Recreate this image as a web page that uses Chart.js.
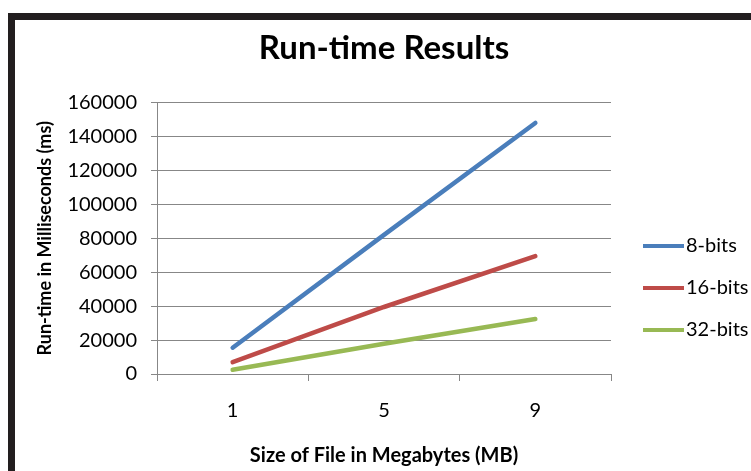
<!DOCTYPE html>
<html>
<head>
<meta charset="utf-8">
<script src="https://cdn.jsdelivr.net/npm/chart.js@4"></script>
<style>
    html, body { margin: 0; padding: 0; background: #fff; }
    #frame {
        position: absolute; left: 8px; top: 13px; width: 760px; height: 470px;
        border-top: 7px solid #221e1f; border-left: 7px solid #221e1f;
    }
    #chart { position: absolute; left: 0; top: 0; }
</style>
</head>
<body>
<div id="frame"></div>
<canvas id="chart" width="751" height="471"></canvas>
<script>
var sizes   = ['1', '5', '9'];
var bits8   = [15500, 82000, 148000];
var bits16  = [7000, 39500, 69500];
var bits32  = [2500, 17800, 32400];
var names   = ['8-bits', '16-bits', '32-bits'];
var colors  = ['#4a7ebb', '#be4b48', '#98b954'];
var yTicks  = [0, 20000, 40000, 60000, 80000, 100000, 120000, 140000, 160000];

var FONT = 'Lato, "Open Sans", sans-serif';
var GRID = '#878787';

// legend on the right, drawn by hand to sit where Excel puts it
var sideLegend = {
    id: 'sideLegend',
    afterDraw: function(chart) {
        var ctx = chart.ctx;
        ctx.save();
        ctx.font = '20px ' + FONT;
        ctx.textBaseline = 'middle';
        ctx.textAlign = 'left';
        chart.data.datasets.forEach(function(ds, i) {
            var y = 246 + i * 42;
            ctx.strokeStyle = ds.borderColor;
            ctx.lineWidth = 4;
            ctx.beginPath();
            ctx.moveTo(643, y);
            ctx.lineTo(684, y);
            ctx.stroke();
            ctx.fillStyle = '#000';
            ctx.fillText(ds.label, 686, y);
        });
        ctx.restore();
    }
};

function line(i, data) {
    return {
        label: names[i], data: data,
        borderColor: colors[i], backgroundColor: colors[i],
        borderWidth: 4.5, borderCapStyle: 'round',
        pointRadius: 0, tension: 0, fill: false
    };
}

new Chart(document.getElementById('chart'), {
    type: 'line',
    data: {
        labels: sizes,
        datasets: [line(0, bits8), line(1, bits16), line(2, bits32)]
    },
    options: {
        responsive: false,
        animation: false,
        layout: { padding: { left: 0, top: 0, right: 140, bottom: 0 } },
        plugins: {
            legend: { display: false },
            tooltip: { enabled: false },
            title: {
                display: true, fullSize: false,
                text: 'Run-time Results',
                color: '#000',
                font: { family: FONT, size: 33, weight: 'bold' },
                padding: { top: 29, bottom: 34 }
            }
        },
        scales: {
            x: {
                offset: true,
                grid: { offset: true, drawOnChartArea: false, drawTicks: true, tickLength: 7, color: GRID },
                border: { color: GRID },
                ticks: { color: '#000', padding: 18, font: { family: FONT, size: 20 } },
                title: {
                    display: true, text: 'Size of File in Megabytes (MB)', color: '#000',
                    font: { family: FONT, size: 20, weight: 'bold' },
                    padding: { top: 0, bottom: 3 }
                },
                afterFit: function(s) { s.height = 97; }
            },
            y: {
                min: 0, max: 160000,
                afterBuildTicks: function(s) { s.ticks = yTicks.map(function(v) { return { value: v }; }); },
                grid: { color: GRID, tickLength: 6 },
                border: { color: GRID },
                ticks: {
                    color: '#000', padding: 14, font: { family: FONT, size: 20 },
                    callback: function(v) { return String(v); }
                },
                title: {
                    display: true, text: 'Run-time in Milliseconds (ms)', color: '#000',
                    font: { family: FONT, size: 18, weight: 'bold' },
                    padding: { top: 34, bottom: 0 }
                },
                afterFit: function(s) { s.width = 157; }
            }
        }
    },
    plugins: [sideLegend]
});
</script>
</body>
</html>
